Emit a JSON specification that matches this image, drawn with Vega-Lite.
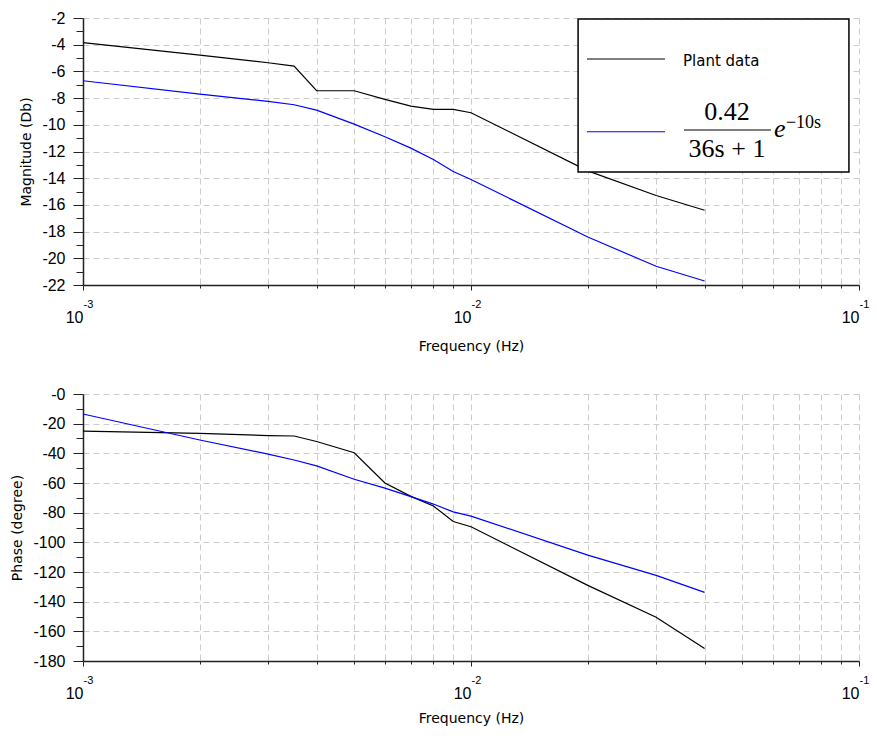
{
  "$schema": "https://vega.github.io/schema/vega-lite/v6.json",
  "background": "white",
  "padding": {"left": 10, "top": 10, "right": 5, "bottom": 5},
  "spacing": 33,
  "config": {
    "view": {"stroke": null},
    "font": "Liberation Sans"
  },
  "datasets": {
    "bode": [
      {"f": 0.001, "series": "Plant data", "mag": -3.85, "phase": -25},
      {"f": 0.002, "series": "Plant data", "mag": -4.78, "phase": -26.5},
      {"f": 0.003, "series": "Plant data", "mag": -5.35, "phase": -28},
      {"f": 0.0035, "series": "Plant data", "mag": -5.6, "phase": -28.3},
      {"f": 0.004, "series": "Plant data", "mag": -7.45, "phase": -32},
      {"f": 0.005, "series": "Plant data", "mag": -7.45, "phase": -39.6},
      {"f": 0.006, "series": "Plant data", "mag": -8.1, "phase": -60},
      {"f": 0.007, "series": "Plant data", "mag": -8.6, "phase": -69},
      {"f": 0.008, "series": "Plant data", "mag": -8.85, "phase": -75.5},
      {"f": 0.009, "series": "Plant data", "mag": -8.85, "phase": -86},
      {"f": 0.01, "series": "Plant data", "mag": -9.1, "phase": -89.5},
      {"f": 0.02, "series": "Plant data", "mag": -13.45, "phase": -129},
      {"f": 0.03, "series": "Plant data", "mag": -15.3, "phase": -150.5},
      {"f": 0.04, "series": "Plant data", "mag": -16.4, "phase": -171.5},
      {"f": 0.001, "series": "Model", "mag": -6.7, "phase": -13.5},
      {"f": 0.002, "series": "Model", "mag": -7.7, "phase": -31},
      {"f": 0.003, "series": "Model", "mag": -8.25, "phase": -40.5},
      {"f": 0.0035, "series": "Model", "mag": -8.5, "phase": -44.5},
      {"f": 0.004, "series": "Model", "mag": -8.9, "phase": -48.5},
      {"f": 0.005, "series": "Model", "mag": -9.95, "phase": -57.5},
      {"f": 0.006, "series": "Model", "mag": -10.9, "phase": -63.5},
      {"f": 0.007, "series": "Model", "mag": -11.75, "phase": -69.2},
      {"f": 0.008, "series": "Model", "mag": -12.6, "phase": -74.2},
      {"f": 0.009, "series": "Model", "mag": -13.5, "phase": -79.5},
      {"f": 0.01, "series": "Model", "mag": -14.1, "phase": -82.3},
      {"f": 0.02, "series": "Model", "mag": -18.4, "phase": -108.6},
      {"f": 0.03, "series": "Model", "mag": -20.6, "phase": -122.3},
      {"f": 0.04, "series": "Model", "mag": -21.7, "phase": -133.7}
    ]
  },
  "vconcat": [
    {
      "width": 776,
      "height": 267,
      "resolve": {"axis": {"x": "independent", "y": "independent"}},
      "layer": [
        {
          "data": {"name": "bode"},
          "mark": {"type": "line", "strokeWidth": 1.2},
          "encoding": {
            "x": {
              "field": "f", "type": "quantitative",
              "scale": {"type": "log", "domain": [0.001, 0.1]},
              "axis": {
                "orient": "bottom",
                "values": [0.001,0.002,0.003,0.004,0.005,0.006,0.007,0.008,0.009,0.01,0.02,0.03,0.04,0.05,0.06,0.07,0.08,0.09,0.1],
                "labelExpr": "(datum.value == 0.001 || datum.value == 0.01 || datum.value == 0.1) ? '10' : ''",
                "labelAlign": "right", "labelBaseline": "top", "labelFont": "Liberation Sans", "labelFontSize": 16,
                "labelColor": "#000000", "labelPadding": 19, "labelFlush": false, "labelOverlap": false, "labelBound": false,
                "tickSize": {"condition": {"test": "datum.value == 0.001 || datum.value == 0.01 || datum.value == 0.1", "value": 5}, "value": 3},
                "tickColor": "#222222", "tickWidth": 1, "domainColor": "#222222", "domainWidth": 1.5,
                "grid": true, "gridColor": "#cccccc", "gridDash": [6, 4], "gridWidth": 1,
                "title": "Frequency (Hz)", "titleFont": "DejaVu Sans", "titleFontSize": 14, "titleFontWeight": "normal",
                "titleColor": "#000000", "titlePadding": 14
              }
            },
            "y": {
              "field": "mag", "type": "quantitative",
              "scale": {"domain": [-22, -2], "nice": false, "zero": false},
              "axis": {
                "orient": "left",
                "values": [-22,-21,-20,-19,-18,-17,-16,-15,-14,-13,-12,-11,-10,-9,-8,-7,-6,-5,-4,-3,-2],
                "labelExpr": "datum.value % 2 == 0 ? '' + datum.value : ''",
                "labelFont": "Liberation Sans", "labelFontSize": 16, "labelColor": "#000000", "labelPadding": 8,
                "labelOverlap": false, "labelFlush": false, "labelBound": false,
                "tickSize": {"condition": {"test": "datum.value % 2 != 0", "value": 7}, "value": 10},
                "tickColor": "#222222", "tickWidth": 1, "domainColor": "#222222", "domainWidth": 1.5,
                "grid": true, "gridColor": "#cccccc", "gridDash": [6, 4], "gridWidth": 1,
                "gridOpacity": {"condition": {"test": "datum.value % 2 != 0", "value": 0}, "value": 1},
                "title": "Magnitude (Db)", "titleFont": "DejaVu Sans", "titleFontSize": 14, "titleFontWeight": "normal",
                "titleColor": "#000000", "titlePadding": 8
              }
            },
            "color": {
              "field": "series", "type": "nominal",
              "scale": {"domain": ["Plant data", "Model"], "range": ["#000000", "#0000ff"]},
              "legend": null
            }
          }
        },
        {
          "data": {"values": [{}]},
          "mark": {"type": "rect", "fill": "white", "stroke": "#000000", "strokeWidth": 1.5},
          "encoding": {
            "x": {"datum": 0.01888, "axis": null},
            "x2": {"datum": 0.0942},
            "y": {"datum": -2.075, "axis": null},
            "y2": {"datum": -13.54}
          }
        },
        {
          "data": {"values": [{}]},
          "mark": {"type": "rule", "stroke": "#000000", "strokeWidth": 1.2},
          "encoding": {
            "x": {"datum": 0.0199, "axis": null},
            "x2": {"datum": 0.03162},
            "y": {"datum": -5.07, "axis": null}
          }
        },
        {
          "data": {"values": [{}]},
          "mark": {"type": "rule", "stroke": "#0000ff", "strokeWidth": 1.2},
          "encoding": {
            "x": {"datum": 0.0199, "axis": null},
            "x2": {"datum": 0.03162},
            "y": {"datum": -10.52, "axis": null}
          }
        },
        {
          "data": {"values": [{}]},
          "mark": {"type": "text", "text": "Plant data", "align": "left", "baseline": "alphabetic", "font": "DejaVu Sans", "fontSize": 15, "color": "#000000"},
          "encoding": {
            "x": {"datum": 0.03519, "axis": null},
            "y": {"datum": -5.6, "axis": null}
          }
        },
        {
          "data": {"values": [{}]},
          "mark": {"type": "text", "text": "0.42", "align": "center", "baseline": "alphabetic", "font": "Liberation Serif", "fontSize": 26, "color": "#000000"},
          "encoding": {
            "x": {"datum": 0.04569, "axis": null},
            "y": {"datum": -9.64, "axis": null}
          }
        },
        {
          "data": {"values": [{}]},
          "mark": {"type": "rule", "stroke": "#000000", "strokeWidth": 1.2},
          "encoding": {
            "x": {"datum": 0.0354, "axis": null},
            "x2": {"datum": 0.05932},
            "y": {"datum": -10.39, "axis": null}
          }
        },
        {
          "data": {"values": [{}]},
          "mark": {"type": "text", "text": "36s + 1", "align": "center", "baseline": "alphabetic", "font": "Liberation Serif", "fontSize": 26, "color": "#000000"},
          "encoding": {
            "x": {"datum": 0.04569, "axis": null},
            "y": {"datum": -12.41, "axis": null}
          }
        },
        {
          "data": {"values": [{}]},
          "mark": {"type": "text", "text": "e", "align": "left", "baseline": "alphabetic", "font": "Liberation Serif", "fontStyle": "italic", "fontSize": 26, "color": "#000000"},
          "encoding": {
            "x": {"datum": 0.06039, "axis": null},
            "y": {"datum": -10.91, "axis": null}
          }
        },
        {
          "data": {"values": [{}]},
          "mark": {"type": "text", "text": "−10s", "align": "left", "baseline": "alphabetic", "font": "Liberation Serif", "fontSize": 18, "color": "#000000"},
          "encoding": {
            "x": {"datum": 0.06483, "axis": null},
            "y": {"datum": -10.24, "axis": null}
          }
        },
        {
          "data": {"name": "bode"},
          "mark": {"type": "point", "opacity": 0},
          "encoding": {
            "x": {
              "field": "f", "type": "quantitative",
              "axis": {
                "orient": "bottom",
                "values": [0.001, 0.01, 0.1],
                "labelExpr": "'' + round(log(datum.value) / LN10)",
                "labelAlign": "left", "labelBaseline": "top", "labelFont": "Liberation Sans", "labelFontSize": 11,
                "labelColor": "#000000", "labelPadding": 13, "labelFlush": false, "labelOverlap": false, "labelBound": false,
                "ticks": false, "domain": false, "grid": false, "title": null
              }
            }
          }
        }
      ]
    },
    {
      "width": 776,
      "height": 267,
      "resolve": {"axis": {"x": "independent"}},
      "layer": [
        {
          "data": {"name": "bode"},
          "mark": {"type": "line", "strokeWidth": 1.2},
          "encoding": {
            "x": {
              "field": "f", "type": "quantitative",
              "scale": {"type": "log", "domain": [0.001, 0.1]},
              "axis": {
                "orient": "bottom",
                "values": [0.001,0.002,0.003,0.004,0.005,0.006,0.007,0.008,0.009,0.01,0.02,0.03,0.04,0.05,0.06,0.07,0.08,0.09,0.1],
                "labelExpr": "(datum.value == 0.001 || datum.value == 0.01 || datum.value == 0.1) ? '10' : ''",
                "labelAlign": "right", "labelBaseline": "top", "labelFont": "Liberation Sans", "labelFontSize": 16,
                "labelColor": "#000000", "labelPadding": 19, "labelFlush": false, "labelOverlap": false, "labelBound": false,
                "tickSize": {"condition": {"test": "datum.value == 0.001 || datum.value == 0.01 || datum.value == 0.1", "value": 5}, "value": 3},
                "tickColor": "#222222", "tickWidth": 1, "domainColor": "#222222", "domainWidth": 1.5,
                "grid": true, "gridColor": "#cccccc", "gridDash": [6, 4], "gridWidth": 1,
                "title": "Frequency (Hz)", "titleFont": "DejaVu Sans", "titleFontSize": 14, "titleFontWeight": "normal",
                "titleColor": "#000000", "titlePadding": 10
              }
            },
            "y": {
              "field": "phase", "type": "quantitative",
              "scale": {"domain": [-180, 0], "nice": false, "zero": false},
              "axis": {
                "values": [-180,-170,-160,-150,-140,-130,-120,-110,-100,-90,-80,-70,-60,-50,-40,-30,-20,-10,0],
                "labelExpr": "datum.value % 20 == 0 ? (datum.value == 0 ? '-0' : '' + datum.value) : ''",
                "labelFont": "Liberation Sans", "labelFontSize": 16, "labelColor": "#000000", "labelPadding": 8,
                "labelOverlap": false, "labelFlush": false, "labelBound": false,
                "tickSize": {"condition": {"test": "datum.value % 20 != 0", "value": 7}, "value": 10},
                "tickColor": "#222222", "tickWidth": 1, "domainColor": "#222222", "domainWidth": 1.5,
                "grid": true, "gridColor": "#cccccc", "gridDash": [6, 4], "gridWidth": 1,
                "gridOpacity": {"condition": {"test": "datum.value % 20 != 0", "value": 0}, "value": 1},
                "title": "Phase (degree)", "titleFont": "DejaVu Sans", "titleFontSize": 14, "titleFontWeight": "normal",
                "titleColor": "#000000", "titlePadding": 8
              }
            },
            "color": {
              "field": "series", "type": "nominal",
              "scale": {"domain": ["Plant data", "Model"], "range": ["#000000", "#0000ff"]},
              "legend": null
            }
          }
        },
        {
          "data": {"name": "bode"},
          "mark": {"type": "point", "opacity": 0},
          "encoding": {
            "x": {
              "field": "f", "type": "quantitative",
              "axis": {
                "orient": "bottom",
                "values": [0.001, 0.01, 0.1],
                "labelExpr": "'' + round(log(datum.value) / LN10)",
                "labelAlign": "left", "labelBaseline": "top", "labelFont": "Liberation Sans", "labelFontSize": 11,
                "labelColor": "#000000", "labelPadding": 13, "labelFlush": false, "labelOverlap": false, "labelBound": false,
                "ticks": false, "domain": false, "grid": false, "title": null
              }
            }
          }
        }
      ]
    }
  ]
}
